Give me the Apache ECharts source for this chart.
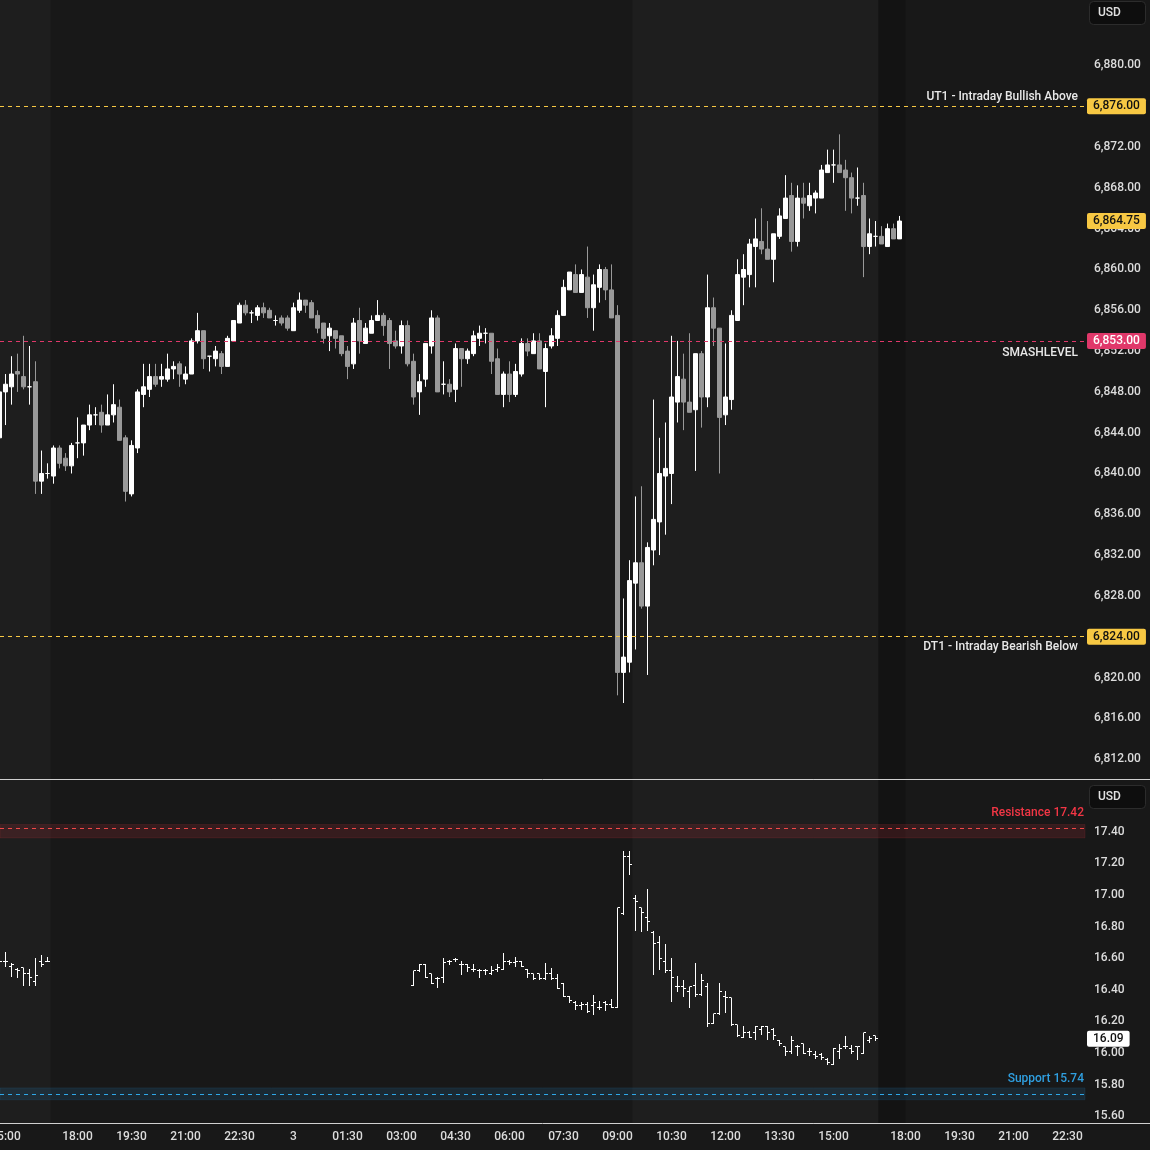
<!DOCTYPE html>
<html><head><meta charset="utf-8">
<script src="https://cdn.jsdelivr.net/npm/echarts@6/dist/echarts.min.js"></script>
<style>html,body{margin:0;padding:0;background:#181818;}#c{width:1150px;height:1150px;}</style>
</head><body><div id="c"></div>
<script>
// ---------- DATA ----------
// ES 10-minute candles; slot -1 is the partly hidden candle at the left edge
const esFirstSlot = -1;
const esOpen = [6843.5,6848,6848.5,6850,6849.5,6848.5,6849,6839.25,6840,6839.75,6842.5,6841.5,6840.75,6843,6843,6844.75,6845.75,6846,6844.75,6845.75,6846.5,6843.5,6838,6842.5,6847.75,6848.25,6849.5,6849.25,6849.25,6850.25,6850.75,6849.25,6849.75,6853,6854,6851.5,6851.25,6851.75,6850.5,6853,6854.75,6856.5,6855.75,6855.5,6856.25,6856,6855,6855.25,6855.25,6854,6856,6857,6856.75,6855.5,6854.75,6853.5,6854,6853.5,6852,6850.75,6855,6852.75,6853.75,6855,6855.5,6855,6853,6852.5,6854.5,6851,6848,6849.25,6852.5,6855.25,6848.75,6848.75,6848.25,6852.25,6851.25,6851.75,6853.25,6853.75,6853.75,6851.25,6847.75,6849.75,6847.75,6849.75,6852.75,6851.75,6853,6850,6852.5,6853.25,6855.5,6858,6859.5,6857.75,6859.25,6856.25,6858.25,6860,6858,6855.5,6820.5,6821.5,6829.25,6831.25,6827,6832.5,6835.25,6839.75,6840,6847,6849.25,6847,6846.25,6851.75,6847.5,6856.25,6854.25,6845.75,6847.25,6855,6859.25,6859.5,6862.25,6862.75,6862,6861,6863.25,6865,6867.25,6862.75,6867,6866.25,6867,6867,6869.5,6870.25,6870.25,6869.75,6869,6867,6867.25,6862.25,6863.25,6863.25,6862.25,6864,6863];
const esHigh = [6848.25,6849.75,6851.5,6851.75,6853.5,6852.5,6851,6842.25,6841,6842.75,6842.75,6842,6843,6845.5,6844.75,6846.75,6846.5,6846.75,6847.75,6848.75,6847.25,6843.75,6843.25,6848.25,6850.75,6850.75,6850.75,6850.75,6851.75,6851,6851,6850.5,6853.25,6855.75,6854,6851.5,6852.5,6852,6853.5,6855,6856.75,6857,6856,6856.5,6856.75,6856.25,6855.5,6855.5,6855.5,6856.75,6857.75,6857,6857,6856,6854.75,6854.75,6854,6853.5,6852.5,6855.25,6856.25,6854.75,6855.5,6857,6855.75,6855.25,6854,6855,6855,6851.75,6849.75,6852.75,6856,6855.5,6851,6849.25,6852.75,6852.25,6852.25,6854,6854.5,6854.25,6853.75,6852.25,6850,6851,6850.75,6853.25,6853.25,6853.75,6853.75,6852.75,6854.25,6856,6859,6859.75,6860.5,6860,6862.25,6859.5,6860.5,6860.25,6860.5,6856.5,6827.75,6831.5,6837.75,6838.75,6833.25,6847.25,6843.5,6845,6853.5,6853,6851.75,6853.75,6851.75,6852,6859.5,6857.25,6854.25,6852.75,6856,6861,6861.5,6863,6865,6866,6864.75,6863.5,6866,6869.25,6868.5,6868.25,6868.5,6868.5,6867.75,6870.25,6871.75,6871.75,6873.25,6870.75,6869.5,6870,6868.5,6865,6864.75,6864.25,6864.5,6864.5,6865.25];
const esLow = [6843.25,6844.75,6846.75,6848,6848.25,6846.75,6838,6838,6839.5,6839,6840.5,6840.25,6840,6841.5,6841.75,6844.25,6844.75,6844,6844.75,6845,6843.25,6837.25,6837.75,6842,6846.5,6847.5,6848.5,6848.5,6849,6849.25,6848.5,6848.75,6849.75,6852.75,6850.25,6850,6850.5,6849.75,6850.5,6853,6854.75,6855.5,6854.75,6855,6855.25,6855.25,6854.5,6854.5,6854,6854,6855.75,6855.75,6855.25,6853.75,6852.75,6852,6852.25,6851.5,6849.25,6850.25,6851.75,6852.75,6853.75,6855,6853.5,6850.25,6852.25,6851.75,6850.5,6846.75,6845.75,6848.5,6851.75,6848,6847.75,6847.5,6847,6848.5,6850.75,6851.5,6852.5,6852.75,6849.75,6847.75,6846.5,6847,6847.5,6849.5,6851.5,6851.75,6850.25,6846.5,6852.25,6852.5,6855.5,6858,6857.75,6857.75,6855.25,6854,6856.75,6857,6855.25,6818.25,6817.5,6820.5,6822.75,6826.75,6820.25,6831,6832,6834,6837,6845,6844.25,6846,6840.25,6844.5,6846.5,6852.5,6840,6844.75,6846.25,6855,6856.5,6858.25,6858.25,6861.5,6861,6858.75,6863,6865,6861.75,6862.25,6865,6865.75,6865.5,6867,6869.5,6868.5,6869.5,6865.75,6865.5,6866.25,6859.25,6861.5,6862.25,6862.5,6862.25,6863,6863];
const esClose = [6848,6848.75,6849.75,6849.75,6848.5,6848.5,6839.25,6840,6840,6842.5,6841,6840.75,6842.75,6843,6844.75,6845.75,6845.75,6844.75,6845.75,6846.75,6843.25,6838.25,6842.75,6848,6848.5,6849.5,6848.75,6849.5,6850.25,6850.5,6849.75,6849.75,6853,6854,6851.25,6851.5,6852,6850.5,6853.25,6855,6856.5,6855.75,6855.75,6856.25,6855.75,6855.25,6855,6854.75,6854.25,6856.25,6857,6856.5,6855.25,6854.25,6853.25,6854.25,6853.25,6851.75,6850.5,6854.75,6853,6854.25,6855,6855.5,6854.5,6852.75,6852.5,6854.5,6850.75,6847.5,6849,6852.75,6855.25,6848,6848.75,6848,6852.25,6851.25,6852,6853.5,6853.75,6853.75,6851,6847.75,6849.75,6847.75,6850,6852.75,6852,6853,6850.25,6852.25,6853.5,6855.5,6858.25,6859.75,6857.75,6859.5,6856.25,6858.5,6860,6858,6855.25,6820.5,6822,6829.5,6831.25,6827,6832.75,6835.5,6840,6840.5,6847.5,6849.5,6847,6846,6851.75,6847.5,6856.25,6854.25,6845.5,6847.5,6855.5,6859.5,6860,6862.5,6863,6862,6861,6863.5,6865.25,6867,6862.75,6867,6866.5,6867.25,6867.5,6869.75,6870.25,6870.25,6869.5,6869,6867,6867,6862.25,6863.5,6863.25,6862.5,6864,6863,6864.75];

// VIX 10-minute OHLC bars
const vixSlots = [-1,0,1,2,3,4,5,6,7,68,69,70,71,72,73,74,75,76,77,78,79,80,81,82,83,84,85,86,87,88,89,90,91,92,93,94,95,96,97,98,99,100,101,102,103,104,105,106,107,108,109,110,111,112,113,114,115,116,117,118,119,120,121,122,123,124,125,126,127,128,129,130,131,132,133,134,135,136,137,138,139,140,141,142,143,144,145];
const vixOpen = [16.60,16.58,16.55,16.53,16.54,16.50,16.45,16.58,16.58,16.43,16.52,16.56,16.50,16.47,16.48,16.58,16.59,16.56,16.56,16.53,16.52,16.52,16.50,16.53,16.53,16.58,16.57,16.58,16.53,16.50,16.50,16.47,16.50,16.47,16.44,16.36,16.32,16.30,16.31,16.30,16.29,16.32,16.31,16.29,16.88,17.24,16.98,16.92,16.86,16.76,16.70,16.58,16.52,16.42,16.42,16.39,16.43,16.37,16.42,16.19,16.25,16.36,16.35,16.18,16.10,16.13,16.13,16.15,16.17,16.15,16.08,16.04,16.01,16.04,16.06,16.01,15.99,15.99,15.96,15.93,16.01,16.04,16.03,16.04,16.00,16.08,16.11];
const vixHigh = [16.62,16.64,16.57,16.54,16.54,16.53,16.60,16.62,16.61,16.52,16.56,16.56,16.50,16.48,16.60,16.59,16.60,16.58,16.56,16.56,16.53,16.53,16.55,16.56,16.63,16.59,16.61,16.58,16.53,16.50,16.50,16.57,16.54,16.50,16.44,16.36,16.33,16.32,16.32,16.37,16.33,16.33,16.34,16.92,17.28,17.28,17.00,16.92,17.04,16.77,16.74,16.69,16.60,16.49,16.46,16.42,16.57,16.50,16.44,16.25,16.44,16.39,16.35,16.18,16.17,16.14,16.17,16.17,16.17,16.16,16.08,16.04,16.11,16.05,16.06,16.03,16.01,16.00,15.97,16.03,16.06,16.11,16.05,16.04,16.13,16.11,16.11];
const vixLow = [16.57,16.55,16.49,16.48,16.43,16.43,16.43,16.55,16.58,16.43,16.52,16.48,16.44,16.42,16.45,16.56,16.58,16.50,16.52,16.52,16.48,16.50,16.50,16.52,16.53,16.56,16.55,16.55,16.48,16.47,16.47,16.47,16.47,16.41,16.36,16.32,16.28,16.28,16.26,16.25,16.28,16.27,16.29,16.29,16.88,17.13,16.78,16.77,16.78,16.50,16.53,16.51,16.33,16.39,16.36,16.29,16.36,16.37,16.17,16.19,16.25,16.26,16.18,16.11,16.10,16.10,16.09,16.12,16.09,16.09,16.05,15.99,16.00,15.99,16.00,15.99,15.97,15.96,15.93,15.93,15.97,16.03,16.00,15.96,16.00,16.07,16.08];
const vixClose = [16.58,16.58,16.56,16.52,16.50,16.48,16.49,16.56,16.58,16.52,16.56,16.48,16.44,16.47,16.57,16.58,16.59,16.56,16.54,16.53,16.52,16.52,16.52,16.54,16.58,16.57,16.58,16.55,16.50,16.47,16.47,16.50,16.47,16.41,16.36,16.33,16.30,16.31,16.26,16.32,16.29,16.31,16.29,16.92,17.24,17.19,16.96,16.89,16.83,16.69,16.60,16.52,16.48,16.42,16.41,16.42,16.37,16.46,16.19,16.25,16.39,16.35,16.18,16.11,16.13,16.10,16.17,16.17,16.13,16.11,16.06,16.01,16.08,16.04,16.00,16.01,15.98,15.97,15.94,16.03,16.03,16.04,16.01,16.04,16.13,16.09,16.09];

// time axis ticks (slot index -> label)
const timeTickSlots = [0,12,21,30,39,48,57,66,75,84,93,102,111,120,129,138,150,159,168,177];
const timeTickLabels = ['15:00','18:00','19:30','21:00','22:30','3','01:30','03:00','04:30','06:00','07:30','09:00','10:30','12:00','13:30','15:00','18:00','19:30','21:00','22:30'];

// price axis ticks
const esTicks = [6812,6816,6820,6824,6828,6832,6836,6840,6844,6848,6852,6856,6860,6864,6868,6872,6876,6880];
const vixTicks = [15.6,15.8,16.0,16.2,16.4,16.6,16.8,17.0,17.2,17.4];

// levels
const esLevelValues = [6876, 6853, 6824];
const esLevelNames = ['UT1 - Intraday Bullish Above', 'SMASHLEVEL', 'DT1 - Intraday Bearish Below'];
const esLastPrice = 6864.75;
const vixResistance = 17.42;
const vixSupport = 15.74;
const vixLast = 16.09;

// session shading (slot ranges)
const rthRanges = [[-2, 7.5], [104.5, 145.5]];
const postRanges = [[145.5, 150]];

// ---------- CHART ----------
const UP = '#ffffff', DOWN = '#999999';
const YEL = '#f7c843', PINK = '#e0386a';
const SESSION_RTH = '#1e1e1e', SESSION_POST = '#131313', BASE = '#181818';
const AXIS_TXT = '#dcdcdc';
const FONT = 'Roboto, "Noto Sans", sans-serif';
const FW = 500;
const xMin = -0.91667, xMax = 179.91667;
const NOLINE = 'rgba(0,0,0,0)';

const fmt2 = v => v.toLocaleString('en-US', {minimumFractionDigits: 2, maximumFractionDigits: 2});

const esData = esOpen.map((o, i) => {
  const v = [esFirstSlot + i, o, esClose[i], esLow[i], esHigh[i]];
  return o === esClose[i] ? {value: v, itemStyle: {color: UP, borderColor: UP}} : {value: v};
});
const vixData = vixSlots.map((s, i) => [s, vixOpen[i], vixHigh[i], vixLow[i], vixClose[i]]);

const sessionAreas = [
  ...rthRanges.map(r => [{xAxis: r[0], itemStyle: {color: SESSION_RTH}}, {xAxis: r[1]}]),
  ...postRanges.map(r => [{xAxis: r[0], itemStyle: {color: SESSION_POST}}, {xAxis: r[1]}])
];

const boxLabel = (text, bg, fg) => ({show: true, position: 'end', formatter: text, color: fg, fontWeight: FW,
  backgroundColor: bg, padding: [2, 6, 2, 6], borderRadius: 2, fontSize: 12, fontFamily: FONT, distance: 2});

const levelColors = [YEL, PINK, YEL];
const levelPos = ['insideEndTop', 'insideEndBottom', 'insideEndBottom'];
const levelDist = [[7, 3], [7, 6], [7, 4]];
const esMarkLines = [];
esLevelValues.forEach((v, i) => {
  esMarkLines.push({
    yAxis: v,
    lineStyle: {color: levelColors[i], type: [4, 4], width: 1},
    label: {show: true, position: levelPos[i], formatter: esLevelNames[i], color: '#e8e8e8', fontWeight: FW,
            fontSize: 12, fontFamily: FONT, distance: levelDist[i]}
  });
  esMarkLines.push({yAxis: v, lineStyle: {color: NOLINE, width: 0},
    label: boxLabel(fmt2(v), levelColors[i], i === 1 ? '#ffffff' : '#111111')});
});
esMarkLines.push({yAxis: esLastPrice, lineStyle: {color: NOLINE, width: 0},
  label: boxLabel(fmt2(esLastPrice), YEL, '#111111')});

function renderOHLC(params, api) {
  const x = api.value(0);
  const o = api.coord([x, api.value(1)]);
  const h = api.coord([x, api.value(2)]);
  const l = api.coord([x, api.value(3)]);
  const c = api.coord([x, api.value(4)]);
  const px = Math.round(o[0] - 0.5) + 0.5;
  const r = v => Math.round(v - 0.5) + 0.5;
  const st = {stroke: '#ffffff', lineWidth: 1};
  return {type: 'group', children: [
    {type: 'line', shape: {x1: px, y1: Math.round(h[1]), x2: px, y2: Math.round(l[1]) + 1}, style: st},
    {type: 'line', shape: {x1: px - 2.5, y1: r(o[1]), x2: px, y2: r(o[1])}, style: st},
    {type: 'line', shape: {x1: px, y1: r(c[1]), x2: px + 2.5, y2: r(c[1])}, style: st}
  ]};
}

const chart = echarts.init(document.getElementById('c'), null, {renderer: 'canvas'});
chart.setOption({
  animation: false,
  backgroundColor: BASE,
  textStyle: {fontFamily: FONT},
  grid: [
    {left: 0, right: 65, top: 0, height: 779, show: true, backgroundColor: BASE, borderWidth: 0,
     containLabel: false, outerBoundsMode: 'none'},
    {left: 0, right: 65, top: 780, height: 343, show: true, backgroundColor: BASE, borderWidth: 0,
     containLabel: false, outerBoundsMode: 'none'}
  ],
  xAxis: [
    {type: 'value', gridIndex: 0, min: xMin, max: xMax, splitLine: {show: false},
     axisLine: {show: true, onZero: false, lineStyle: {color: '#d0d0d0', width: 1}},
     axisTick: {show: false}, axisLabel: {show: false}},
    {type: 'value', gridIndex: 1, min: xMin, max: xMax, splitLine: {show: false},
     axisLine: {show: true, onZero: false, lineStyle: {color: '#d0d0d0', width: 1}},
     axisTick: {show: false},
     axisLabel: {show: true, customValues: timeTickSlots, color: AXIS_TXT, fontSize: 12, fontWeight: FW, margin: 8, hideOverlap: false,
                 formatter: v => { const k = timeTickSlots.indexOf(Math.round(v)); return k >= 0 ? timeTickLabels[k] : ''; }}}
  ],
  yAxis: [
    {type: 'value', gridIndex: 0, position: 'right', min: 6810.05, max: 6886.42,
     splitLine: {show: false}, axisTick: {show: false},
     axisLine: {show: true, lineStyle: {color: '#d0d0d0', width: 1}},
     axisLabel: {customValues: esTicks, color: AXIS_TXT, fontSize: 12, fontWeight: FW, margin: 9, formatter: v => fmt2(v)}},
    {type: 'value', gridIndex: 1, position: 'right', min: 15.558, max: 17.726,
     splitLine: {show: false}, axisTick: {show: false},
     axisLine: {show: true, lineStyle: {color: '#d0d0d0', width: 1}},
     axisLabel: {customValues: vixTicks, color: AXIS_TXT, fontSize: 12, fontWeight: FW, margin: 9, formatter: v => v.toFixed(2)}}
  ],
  series: [
    {
      type: 'candlestick', xAxisIndex: 0, yAxisIndex: 0, barWidth: 4, clip: true,
      data: esData, encode: {x: 0, y: [1, 2, 3, 4]},
      itemStyle: {color: UP, color0: DOWN, borderColor: UP, borderColor0: DOWN, borderWidth: 1},
      markArea: {silent: true, data: sessionAreas},
      markLine: {silent: true, symbol: ['none', 'none'], data: esMarkLines}
    },
    {
      type: 'custom', xAxisIndex: 1, yAxisIndex: 1, clip: true,
      data: vixData, encode: {x: 0, y: [1, 2, 3, 4]},
      renderItem: renderOHLC,
      markArea: {silent: true, data: [
        ...sessionAreas,
        [{yAxis: vixResistance - 0.06, itemStyle: {color: 'rgba(242,54,69,0.14)', borderColor: 'rgba(242,54,69,0.12)', borderWidth: 1}}, {yAxis: vixResistance + 0.025}],
        [{yAxis: vixSupport - 0.035, itemStyle: {color: 'rgba(41,150,220,0.14)', borderColor: 'rgba(41,150,220,0.12)', borderWidth: 1}}, {yAxis: vixSupport + 0.04}]
      ]},
      markLine: {silent: true, symbol: ['none', 'none'], data: [
        {yAxis: vixResistance, lineStyle: {color: '#f04848', type: [4, 4], width: 1},
         label: {show: true, position: 'insideEndTop', formatter: 'Resistance ' + vixResistance.toFixed(2), color: '#f23645', fontSize: 12, fontWeight: FW, distance: [1, 9]}},
        {yAxis: vixSupport, lineStyle: {color: '#2fa8e8', type: [4, 4], width: 1},
         label: {show: true, position: 'insideEndTop', formatter: 'Support ' + vixSupport.toFixed(2), color: '#2f9fe0', fontSize: 12, fontWeight: FW, distance: [1, 9]}},
        {yAxis: vixLast, lineStyle: {color: NOLINE, width: 0}, label: boxLabel(vixLast.toFixed(2), '#ffffff', '#111111')}
      ]}
    }
  ],
  graphic: [
    {type: 'rect', z: 100, shape: {x: 1089.5, y: 1.5, width: 56, height: 23, r: 4}, style: {fill: '#0e0e0e', stroke: '#2c2c2c', lineWidth: 1}},
    {type: 'text', z: 101, x: 1098, y: 13, style: {text: 'USD', fill: '#e0e0e0', font: '500 12px ' + FONT, verticalAlign: 'middle'}},
    {type: 'rect', z: 100, shape: {x: 1089.5, y: 785.5, width: 56, height: 23, r: 4}, style: {fill: '#0e0e0e', stroke: '#2c2c2c', lineWidth: 1}},
    {type: 'text', z: 101, x: 1098, y: 797, style: {text: 'USD', fill: '#e0e0e0', font: '500 12px ' + FONT, verticalAlign: 'middle'}},
    {type: 'line', z: 50, shape: {x1: 1085, y1: 779.5, x2: 1150, y2: 779.5}, style: {stroke: '#d0d0d0', lineWidth: 1}},
    {type: 'line', z: 50, shape: {x1: 1085, y1: 1123.5, x2: 1150, y2: 1123.5}, style: {stroke: '#d0d0d0', lineWidth: 1}}
  ]
});
</script></body></html>
